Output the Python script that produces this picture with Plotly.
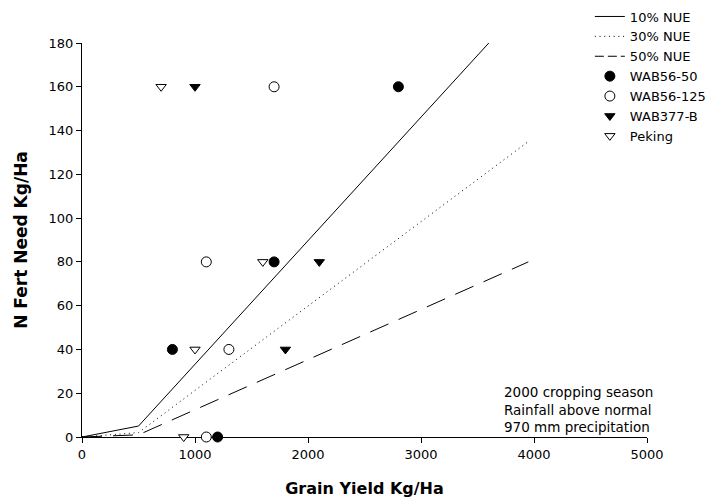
import plotly.graph_objects as go

# Nitrogen fertilizer requirement curves at three N-use efficiencies
nue_labels = ["10% NUE", "30% NUE", "50% NUE"]
nue10_yield = [0, 500, 3600]
nue10_n = [0, 5, 180]
nue30_yield = [0, 500, 3950]
nue30_n = [0, 2, 135]
nue50_yield = [0, 500, 3950]
nue50_n = [0, 1, 80]

# Observed grain yields per variety at each N rate (kg/ha)
n_rates = [0, 40, 80, 160]
wab56_50_yield = [1200, 800, 1700, 2800]
wab56_125_yield = [1100, 1300, 1100, 1700]
wab377_b_yield = [None, 1800, 2100, 1000]
wab377_b_n = [None, 40, 80, 160]
peking_yield = [900, 1000, 1600, 700]

x_ticks = [0, 1000, 2000, 3000, 4000, 5000]
y_ticks = [0, 20, 40, 60, 80, 100, 120, 140, 160, 180]

FONT = "DejaVu Sans"
fig = go.Figure()

# plot dash pattern, and a shorter one for the legend sample
line_styles = ["solid", "1px,3.7px", "20px,11px"]
legend_styles = ["solid", "1px,3.7px", "9px,4px"]
for i, (name, xs, ys, dash, ldash) in enumerate(zip(
    nue_labels,
    [nue10_yield, nue30_yield, nue50_yield],
    [nue10_n, nue30_n, nue50_n],
    line_styles, legend_styles,
)):
    same = dash == ldash
    fig.add_trace(go.Scatter(
        x=xs, y=ys, mode="lines", name=name, legendgroup=name,
        showlegend=same, legendrank=i + 1,
        line=dict(color="black", width=1, dash=dash),
    ))
    if not same:
        # legend-only entry carrying the compact dash sample
        fig.add_trace(go.Scatter(
            x=[None], y=[None], mode="lines", name=name, legendgroup=name,
            legendrank=i + 1,
            line=dict(color="black", width=1, dash=ldash),
        ))


def add_points(name, xs, ys, symbol, fill, size, rank):
    pts = [(a, b) for a, b in zip(xs, ys) if a is not None and b is not None]
    fig.add_trace(go.Scatter(
        x=[p[0] for p in pts], y=[p[1] for p in pts],
        mode="markers", name=name, cliponaxis=False, legendrank=rank,
        marker=dict(symbol=symbol, size=size, color=fill,
                    line=dict(color="black", width=1)),
    ))


add_points("WAB56-50", wab56_50_yield, n_rates, "circle", "black", 10, 4)
add_points("WAB56-125", wab56_125_yield, n_rates, "circle", "white", 10, 5)
add_points("WAB377-B", wab377_b_yield, wab377_b_n, "triangle-down", "black", 9, 6)
add_points("Peking", peking_yield, n_rates, "triangle-down", "white", 9, 7)

axis_common = dict(
    showgrid=False, zeroline=False, showline=True, linecolor="black",
    linewidth=1, ticks="outside", ticklen=5, tickwidth=1, tickcolor="black",
    mirror=False, layer="below traces",
    tickfont=dict(family=FONT, size=13, color="black"),
)

fig.update_layout(
    width=722, height=503,
    margin=dict(l=82, r=75, t=43, b=66, autoexpand=False),
    paper_bgcolor="white", plot_bgcolor="white",
    font=dict(family=FONT, size=13, color="black"),
    xaxis=dict(
        range=[0, 5000], tickvals=x_ticks, ticktext=[str(v) for v in x_ticks],
        title=dict(text="<b>Grain Yield Kg/Ha</b>", standoff=22,
                   font=dict(family=FONT, size=16, color="black")),
        **axis_common,
    ),
    yaxis=dict(
        range=[0, 180], tickvals=y_ticks, ticktext=[str(v) for v in y_ticks],
        title=dict(text="<b>N Fert Need Kg/Ha</b>", standoff=16,
                   font=dict(family=FONT, size=17, color="black")),
        **axis_common,
    ),
    legend=dict(
        xref="container", yref="container", x=0.817, y=0.997,
        xanchor="left", yanchor="top", bgcolor="rgba(0,0,0,0)",
        font=dict(family=FONT, size=13, color="black"),
        borderwidth=0, tracegroupgap=0,
    ),
    annotations=[dict(
        xref="paper", yref="paper", x=0.743, y=0.071,
        xanchor="left", yanchor="middle", align="left", showarrow=False,
        text="2000 cropping season<br>Rainfall above normal<br>970 mm precipitation",
        font=dict(family=FONT, size=13.5, color="black"),
    )],
)

fig.write_html("out.html")
